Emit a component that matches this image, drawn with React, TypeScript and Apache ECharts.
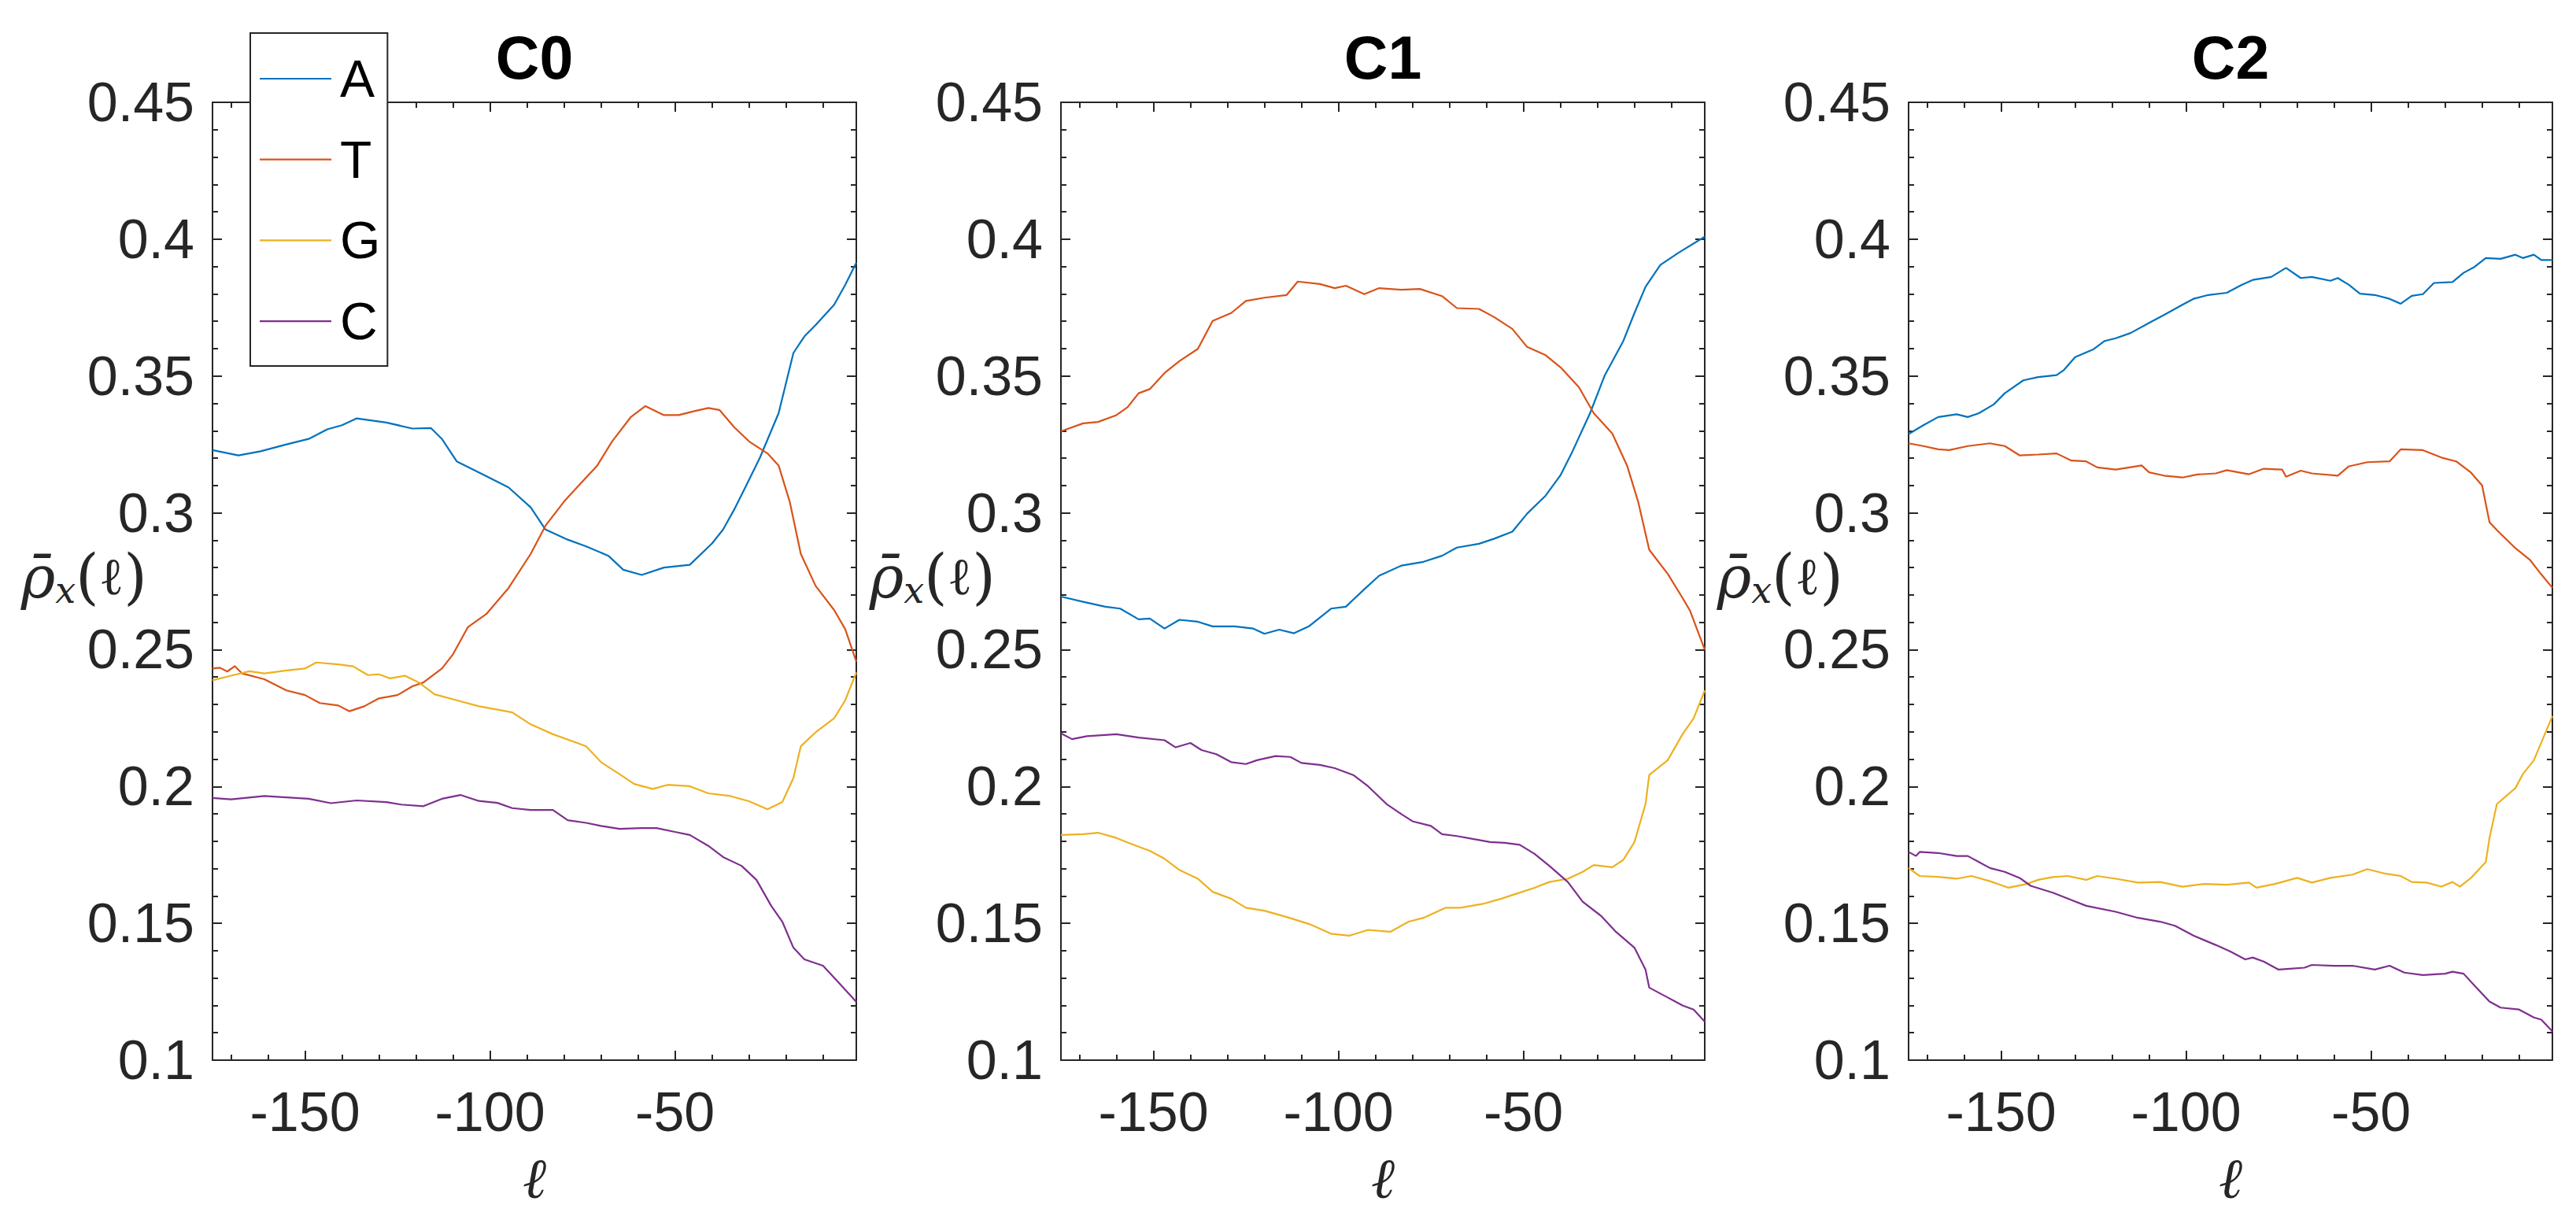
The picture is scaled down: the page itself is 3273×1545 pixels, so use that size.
import React, { useEffect, useRef } from "react";
import * as echarts from "echarts";

// ---- data: [ell, rho] pairs ----
const PANELS = ["C0", "C1", "C2"];
const BASES = ["A", "T", "G", "C"];
const COLORS = ["#0072BD", "#D95319", "#EDB120", "#7E2F8E"];

const C0_A: [number, number][] = [
  [-175, 0.3229], [-168, 0.321], [-162, 0.3225], [-155, 0.325], [-149, 0.327], [-144, 0.3305], [-140, 0.332],
  [-136, 0.3345], [-128, 0.333], [-121, 0.3308], [-116, 0.331], [-113, 0.327], [-109, 0.3188], [-101, 0.3134],
  [-95, 0.3093], [-89, 0.302], [-85, 0.2939], [-79, 0.2902], [-74, 0.2877], [-68, 0.2843], [-64, 0.2792],
  [-59, 0.2773], [-53, 0.28], [-46, 0.281], [-40, 0.2888], [-37, 0.2939], [-34, 0.3012], [-31, 0.3093],
  [-27, 0.3203], [-22, 0.3364], [-18, 0.3584], [-15, 0.3645], [-12, 0.3686], [-7, 0.376], [-4, 0.3833], [-1, 0.3914],
];
const C0_T: [number, number][] = [
  [-175, 0.2431], [-173, 0.2434], [-171, 0.242], [-169, 0.244], [-167, 0.2413], [-161, 0.2392], [-155, 0.2351],
  [-150, 0.2334], [-146, 0.2305], [-141, 0.2296], [-138, 0.2275], [-134, 0.2293], [-130, 0.2322], [-125, 0.2334],
  [-121, 0.2366], [-118, 0.238], [-113, 0.2431], [-110, 0.2483], [-106, 0.2582], [-101, 0.263], [-95, 0.2725],
  [-89, 0.285], [-85, 0.2953], [-80, 0.3041], [-76, 0.31], [-71, 0.3173], [-67, 0.3261], [-62, 0.3349],
  [-58, 0.339], [-53, 0.3357], [-49, 0.3357], [-45, 0.3371], [-41, 0.3383], [-38, 0.3376], [-34, 0.3313],
  [-30, 0.3261], [-25, 0.3217], [-22, 0.3173], [-19, 0.3041], [-16, 0.285], [-12, 0.2733], [-7, 0.2645],
  [-4, 0.2575], [-1, 0.2456],
];
const C0_G: [number, number][] = [
  [-175, 0.2388], [-170, 0.2405], [-165, 0.2421], [-161, 0.2413], [-155, 0.2424], [-150, 0.2431], [-147, 0.2453],
  [-141, 0.2446], [-137, 0.2439], [-133, 0.2407], [-130, 0.241], [-127, 0.2395], [-123, 0.2405], [-119, 0.2378],
  [-115, 0.2337], [-109, 0.2315], [-103, 0.2293], [-98, 0.2281], [-94, 0.2271], [-89, 0.2227], [-83, 0.2191],
  [-77, 0.2162], [-74, 0.2147], [-70, 0.2089], [-65, 0.2045], [-61, 0.2009], [-56, 0.1991], [-52, 0.2006],
  [-46, 0.2001], [-41, 0.1975], [-35, 0.1965], [-30, 0.1946], [-25, 0.1917], [-21, 0.1943], [-18, 0.2031],
  [-16, 0.2147], [-12, 0.2198], [-7, 0.2249], [-4, 0.2315], [-1, 0.2417],
];
const C0_C: [number, number][] = [
  [-175, 0.1958], [-170, 0.1953], [-161, 0.1965], [-155, 0.196], [-149, 0.1955], [-143, 0.1939], [-136, 0.1949],
  [-128, 0.1943], [-124, 0.1934], [-118, 0.1928], [-113, 0.1955], [-108, 0.1969], [-103, 0.1947], [-98, 0.194],
  [-94, 0.1921], [-89, 0.1914], [-83, 0.1914], [-79, 0.1877], [-74, 0.1867], [-70, 0.1856], [-65, 0.1845],
  [-59, 0.1848], [-55, 0.1848], [-50, 0.1834], [-46, 0.1823], [-41, 0.1783], [-37, 0.1742], [-32, 0.171],
  [-28, 0.1659], [-24, 0.1564], [-21, 0.1506], [-18, 0.1411], [-15, 0.1368], [-10, 0.1345], [-6, 0.1287], [-1, 0.1213],
];

const C1_A: [number, number][] = [
  [-175, 0.2694], [-169, 0.2675], [-163, 0.2657], [-159, 0.265], [-154, 0.2611], [-151, 0.2614], [-147, 0.2577],
  [-143, 0.2609], [-138, 0.2602], [-134, 0.2585], [-128, 0.2585], [-123, 0.2577], [-120, 0.2558], [-116, 0.2573],
  [-112, 0.256], [-108, 0.2585], [-102, 0.265], [-98, 0.2657], [-93, 0.2721], [-89, 0.277], [-83, 0.2807],
  [-77, 0.2821], [-72, 0.2843], [-68, 0.2873], [-62, 0.2887], [-58, 0.2905], [-53, 0.2931], [-49, 0.2997],
  [-44, 0.3063], [-40, 0.3137], [-37, 0.3217], [-32, 0.3364], [-28, 0.3503], [-23, 0.3628], [-20, 0.373],
  [-17, 0.3826], [-13, 0.3906], [-8, 0.3951], [-1, 0.4009],
];
const C1_T: [number, number][] = [
  [-175, 0.3298], [-169, 0.3327], [-165, 0.3332], [-160, 0.3357], [-157, 0.3386], [-154, 0.3437], [-151, 0.3452],
  [-147, 0.3511], [-143, 0.3554], [-138, 0.3599], [-134, 0.3701], [-129, 0.373], [-125, 0.3774], [-120, 0.3786],
  [-114, 0.3796], [-111, 0.3845], [-105, 0.3836], [-101, 0.3821], [-98, 0.383], [-93, 0.3799], [-89, 0.3821],
  [-83, 0.3815], [-78, 0.3818], [-72, 0.3792], [-68, 0.3748], [-62, 0.3745], [-58, 0.3716], [-53, 0.3672],
  [-49, 0.3606], [-44, 0.3576], [-40, 0.3532], [-35, 0.3459], [-31, 0.3364], [-26, 0.329], [-22, 0.3173],
  [-19, 0.3041], [-16, 0.2865], [-11, 0.2777], [-7, 0.2689], [-5, 0.2643], [-1, 0.25],
];
const C1_G: [number, number][] = [
  [-175, 0.1823], [-169, 0.1826], [-165, 0.1831], [-160, 0.1812], [-156, 0.179], [-151, 0.1765], [-147, 0.1736],
  [-143, 0.1695], [-138, 0.1663], [-134, 0.1615], [-129, 0.159], [-125, 0.1557], [-120, 0.1546], [-114, 0.1523],
  [-108, 0.1498], [-102, 0.1462], [-97, 0.1455], [-92, 0.1476], [-86, 0.1469], [-81, 0.1506], [-77, 0.152],
  [-71, 0.1557], [-67, 0.1557], [-61, 0.1571], [-56, 0.159], [-52, 0.1608], [-47, 0.163], [-43, 0.1651],
  [-38, 0.1663], [-34, 0.1688], [-31, 0.1713], [-26, 0.1705], [-23, 0.1732], [-20, 0.1797], [-17, 0.1936],
  [-16, 0.2042], [-11, 0.2096], [-7, 0.2191], [-4, 0.2249], [-1, 0.2351],
];
const C1_C: [number, number][] = [
  [-175, 0.2194], [-172, 0.2173], [-168, 0.2184], [-160, 0.2191], [-154, 0.2179], [-147, 0.2169], [-144, 0.2143],
  [-140, 0.2159], [-137, 0.2133], [-133, 0.2118], [-129, 0.2089], [-125, 0.2082], [-122, 0.2096], [-117, 0.2111],
  [-113, 0.2108], [-110, 0.2086], [-105, 0.2079], [-101, 0.2067], [-96, 0.2042], [-92, 0.2001], [-87, 0.1936],
  [-83, 0.1899], [-80, 0.1873], [-75, 0.1856], [-72, 0.1826], [-68, 0.1819], [-64, 0.1809], [-59, 0.1797],
  [-55, 0.1794], [-51, 0.1787], [-47, 0.1754], [-43, 0.171], [-38, 0.1651], [-34, 0.1579], [-29, 0.1527],
  [-25, 0.1469], [-20, 0.1411], [-17, 0.1331], [-16, 0.1265], [-11, 0.1229], [-7, 0.12], [-4, 0.1185], [-1, 0.1141],
];

const C2_A: [number, number][] = [
  [-175, 0.3288], [-171, 0.332], [-167, 0.335], [-162, 0.336], [-159, 0.335], [-156, 0.3364], [-152, 0.3396],
  [-149, 0.3437], [-144, 0.3484], [-140, 0.3496], [-135, 0.3503], [-133, 0.3522], [-130, 0.3569], [-125, 0.3598],
  [-122, 0.3628], [-119, 0.3638], [-115, 0.3657], [-110, 0.3694], [-106, 0.3723], [-101, 0.376], [-98, 0.3782],
  [-94, 0.3796], [-89, 0.3804], [-85, 0.3833], [-82, 0.3851], [-77, 0.3862], [-73, 0.3895], [-69, 0.3858],
  [-66, 0.3862], [-61, 0.3848], [-59, 0.3858], [-56, 0.3833], [-53, 0.3801], [-49, 0.3796], [-45, 0.3782],
  [-42, 0.3764], [-39, 0.3793], [-36, 0.3799], [-33, 0.384], [-28, 0.3843], [-25, 0.3877], [-22, 0.3899],
  [-19, 0.3931], [-15, 0.3928], [-11, 0.3943], [-9, 0.3931], [-6, 0.3943], [-4, 0.3924], [-1, 0.3924],
];
const C2_T: [number, number][] = [
  [-175, 0.3254], [-171, 0.3244], [-167, 0.3232], [-164, 0.3229], [-159, 0.3244], [-153, 0.3254], [-149, 0.3244],
  [-145, 0.321], [-140, 0.3213], [-135, 0.3217], [-131, 0.3191], [-127, 0.3188], [-124, 0.3166], [-119, 0.3158],
  [-112, 0.3173], [-110, 0.3148], [-106, 0.3136], [-101, 0.3129], [-97, 0.314], [-92, 0.3144], [-89, 0.3156],
  [-83, 0.3141], [-79, 0.3161], [-74, 0.3158], [-73, 0.3132], [-69, 0.3154], [-66, 0.3144], [-59, 0.3136],
  [-56, 0.317], [-51, 0.3185], [-45, 0.3188], [-42, 0.3232], [-36, 0.3229], [-31, 0.3202], [-27, 0.3188],
  [-23, 0.3147], [-20, 0.31], [-18, 0.2966], [-16, 0.2937], [-11, 0.2871], [-7, 0.2827], [-4, 0.2775], [-1, 0.2726],
];
const C2_G: [number, number][] = [
  [-175, 0.1702], [-172, 0.1673], [-167, 0.167], [-162, 0.1663], [-158, 0.1673], [-153, 0.1654], [-148, 0.163],
  [-143, 0.1644], [-140, 0.1659], [-136, 0.1669], [-132, 0.1673], [-127, 0.1659], [-124, 0.1673], [-119, 0.1663],
  [-113, 0.1649], [-107, 0.1651], [-101, 0.1634], [-95, 0.1644], [-89, 0.1641], [-83, 0.1649], [-81, 0.163],
  [-76, 0.1644], [-70, 0.1666], [-66, 0.1649], [-61, 0.1666], [-55, 0.1678], [-51, 0.1698], [-46, 0.1681],
  [-42, 0.1673], [-39, 0.1651], [-35, 0.1649], [-31, 0.1634], [-28, 0.1651], [-26, 0.1634], [-23, 0.1666],
  [-19, 0.1724], [-18, 0.1812], [-16, 0.1936], [-11, 0.1994], [-9, 0.2045], [-6, 0.2096], [-1, 0.2257],
];
const C2_C: [number, number][] = [
  [-175, 0.1761], [-173, 0.1746], [-172, 0.1761], [-167, 0.1757], [-162, 0.1746], [-159, 0.1746], [-156, 0.1724],
  [-153, 0.1702], [-149, 0.1688], [-145, 0.1666], [-142, 0.1637], [-136, 0.1612], [-131, 0.1585], [-127, 0.1564],
  [-119, 0.1542], [-113, 0.152], [-107, 0.1506], [-103, 0.1491], [-98, 0.1455], [-92, 0.1421], [-88, 0.1397],
  [-84, 0.1368], [-82, 0.1375], [-79, 0.136], [-75, 0.1331], [-72, 0.1334], [-68, 0.1338], [-66, 0.1348],
  [-60, 0.1345], [-55, 0.1345], [-49, 0.1331], [-45, 0.1345], [-41, 0.132], [-36, 0.1311], [-30, 0.1316],
  [-28, 0.1323], [-25, 0.1316], [-22, 0.1272], [-18, 0.1214], [-15, 0.1192], [-10, 0.1185], [-6, 0.1156],
  [-4, 0.1148], [-1, 0.1105],
];

const PANEL_DATA = [
  [C0_A, C0_T, C0_G, C0_C],
  [C1_A, C1_T, C1_G, C1_C],
  [C2_A, C2_T, C2_G, C2_C],
];

const X_MIN = -175;
const X_MAX = -1;
const X_MAJOR = [-150, -100, -50];
const X_MINOR = [-170, -160, -140, -130, -120, -110, -90, -80, -70, -60, -40, -30, -20, -10];
const Y_MIN = 0.1;
const Y_MAX = 0.45;
const Y_STEP = 0.05;

// ---- layout ----
const W = 3273;
const H = 1545;
const GRID_LEFTS = [270, 1348, 2425];
const GRID_TOP = 130;
const GRID_W = 818;
const GRID_H = 1217;
const AX = "#262626";
const SANS = "'Liberation Sans', Arial, Helvetica, sans-serif";
const SERIF = "'DejaVu Serif', 'Liberation Serif', serif";

function buildOption(): any {
  const grid: any[] = [];
  const xAxis: any[] = [];
  const yAxis: any[] = [];
  const series: any[] = [];
  const title: any[] = [];
  const axLine = { show: true, onZero: false, lineStyle: { color: AX, width: 2 } };
  const tickStyle = { color: AX, width: 2 };

  PANELS.forEach((p, i) => {
    grid.push({ left: GRID_LEFTS[i], top: GRID_TOP, width: GRID_W, height: GRID_H, containLabel: false, outerBoundsMode: "none" });
    title.push({
      text: p,
      left: GRID_LEFTS[i] + GRID_W / 2,
      top: 34,
      textAlign: "center",
      padding: 0,
      textStyle: { fontSize: 77, fontWeight: "bold", color: "#000", fontFamily: SANS },
    });
    const baseX = {
      gridIndex: i, type: "value", min: X_MIN, max: X_MAX,
      splitLine: { show: false }, minorSplitLine: { show: false },
    };
    xAxis.push({
      ...baseX, position: "bottom", axisLine: axLine,
      axisTick: { show: true, inside: true, length: 12, customValues: X_MAJOR, lineStyle: tickStyle },
      axisLabel: { show: true, customValues: X_MAJOR, fontSize: 70, color: AX, margin: 31, fontFamily: SANS },
      name: "ℓ", nameLocation: "middle", nameGap: 114, nameMoveOverlap: false,
      nameTextStyle: { fontSize: 72, fontStyle: "italic", fontFamily: SERIF, color: AX },
    });
    xAxis.push({
      ...baseX, position: "bottom", axisLine: { show: false },
      axisTick: { show: true, inside: true, length: 7, customValues: X_MINOR, lineStyle: tickStyle },
      axisLabel: { show: false },
    });
    xAxis.push({
      ...baseX, position: "top", axisLine: axLine,
      axisTick: { show: true, inside: true, length: 12, customValues: X_MAJOR, lineStyle: tickStyle },
      axisLabel: { show: false },
    });
    xAxis.push({
      ...baseX, position: "top", axisLine: { show: false },
      axisTick: { show: true, inside: true, length: 7, customValues: X_MINOR, lineStyle: tickStyle },
      axisLabel: { show: false },
    });
    const baseY = {
      gridIndex: i, type: "value", min: Y_MIN, max: Y_MAX, interval: Y_STEP,
      axisLine: axLine,
      axisTick: { show: true, inside: true, length: 12, lineStyle: tickStyle },
      minorTick: { show: true, splitNumber: 5, length: 7, lineStyle: tickStyle },
      splitLine: { show: false }, minorSplitLine: { show: false },
    };
    yAxis.push({
      ...baseY, position: "left",
      axisLabel: { show: true, fontSize: 70, color: AX, margin: 23, fontFamily: SANS },
      name: "{r|ρ̄}{s|x}{p|(}{l|ℓ}{p|)}",
      nameLocation: "middle", nameRotate: 0, nameGap: 83, nameMoveOverlap: false,
      nameTextStyle: {
        color: AX,
        padding: [0, 0, 12, 0],
        rich: {
          r: { fontSize: 74, fontStyle: "italic", fontFamily: SERIF, color: AX, lineHeight: 80 },
          s: { fontSize: 46, fontStyle: "italic", fontFamily: SERIF, color: AX, lineHeight: 36, verticalAlign: "bottom" },
          p: { fontSize: 76, fontFamily: SERIF, color: AX, lineHeight: 80 },
          l: { fontSize: 66, fontFamily: SERIF, color: AX, lineHeight: 80 },
        },
      },
    });
    yAxis.push({ ...baseY, position: "right", axisLabel: { show: false } });

    PANEL_DATA[i].forEach((d, k) => {
      series.push({
        name: BASES[k], type: "line", xAxisIndex: i * 4, yAxisIndex: i * 2,
        data: d, showSymbol: false, symbol: "none", smooth: false,
        lineStyle: { color: COLORS[k], width: 2.2 }, itemStyle: { color: COLORS[k] },
        emphasis: { disabled: true },
      });
    });
  });

  return {
    animation: false,
    backgroundColor: "#fff",
    title,
    grid,
    xAxis,
    yAxis,
    series,
    legend: {
      show: true, orient: "vertical", left: 318, top: 42,
      padding: [25, 9, 24, 12], itemWidth: 91, itemHeight: 66, itemGap: 36.7,
      icon: "path://M0,0h100v2.4h-100z", symbolKeepAspect: true,
      itemStyle: { borderWidth: 0 },
      backgroundColor: "#fff", borderColor: AX, borderWidth: 2, borderRadius: 0,
      selectedMode: false, data: BASES,
      textStyle: { fontSize: 66, color: "#000", fontFamily: SANS, padding: [0, 0, 0, 6] },
    },
  };
}

export default function App() {
  const ref = useRef<HTMLDivElement>(null);
  useEffect(() => {
    if (!ref.current) return;
    const chart = echarts.init(ref.current, undefined, { renderer: "svg", width: W, height: H });
    chart.setOption(buildOption());
    return () => chart.dispose();
  }, []);
  return <div ref={ref} style={{ position: "fixed", left: 0, top: 0, width: W, height: H, background: "#fff" }} />;
}
